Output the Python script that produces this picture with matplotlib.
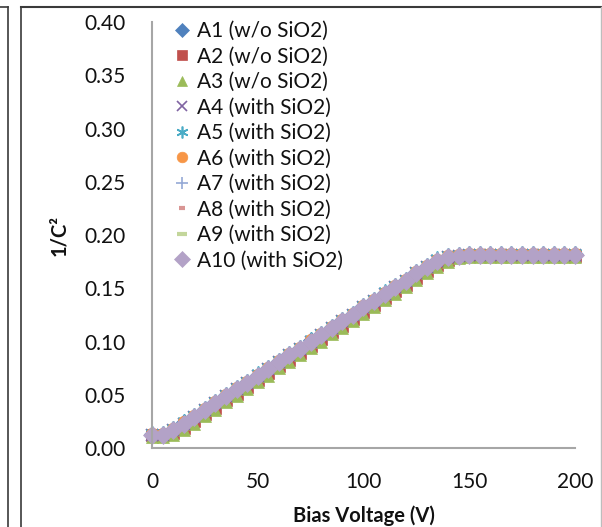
import matplotlib
matplotlib.use("Agg")
import matplotlib.pyplot as plt
from matplotlib.lines import Line2D

# Bias sweep, 0..200 V in 5 V steps
voltage = [0, 5, 10, 15, 20, 25, 30, 35, 40, 45,
           50, 55, 60, 65, 70, 75, 80, 85, 90, 95,
           100, 105, 110, 115, 120, 125, 130, 135, 140, 145,
           150, 155, 160, 165, 170, 175, 180, 185, 190, 195, 200]

# 1/C^2 per sample (without oxide)
a1 = [0.013, 0.013, 0.018, 0.024, 0.030, 0.037, 0.043, 0.050, 0.056, 0.062,
      0.069, 0.075, 0.082, 0.088, 0.094, 0.101, 0.107, 0.114, 0.120, 0.126,
      0.133, 0.139, 0.146, 0.152, 0.158, 0.165, 0.171, 0.177, 0.180, 0.181,
      0.182, 0.182, 0.182, 0.182, 0.182, 0.182, 0.182, 0.182, 0.182, 0.182, 0.182]
a2 = [0.012, 0.012, 0.014, 0.019, 0.025, 0.032, 0.038, 0.045, 0.051, 0.057,
      0.064, 0.070, 0.077, 0.083, 0.089, 0.096, 0.102, 0.109, 0.115, 0.121,
      0.128, 0.134, 0.141, 0.147, 0.153, 0.160, 0.166, 0.172, 0.177, 0.179,
      0.180, 0.180, 0.180, 0.180, 0.180, 0.180, 0.180, 0.180, 0.180, 0.180, 0.180]
a3 = [0.010, 0.010, 0.012, 0.017, 0.023, 0.030, 0.036, 0.043, 0.049, 0.055,
      0.062, 0.068, 0.075, 0.081, 0.087, 0.094, 0.100, 0.107, 0.113, 0.119,
      0.126, 0.132, 0.139, 0.145, 0.151, 0.158, 0.164, 0.170, 0.175, 0.178,
      0.179, 0.179, 0.179, 0.179, 0.179, 0.179, 0.179, 0.179, 0.179, 0.179, 0.179]

# 1/C^2 per sample (with SiO2)
a4 = [0.012, 0.012, 0.017, 0.023, 0.029, 0.036, 0.042, 0.049, 0.055, 0.061,
      0.068, 0.074, 0.081, 0.087, 0.093, 0.100, 0.106, 0.113, 0.119, 0.125,
      0.132, 0.138, 0.145, 0.151, 0.157, 0.164, 0.170, 0.176, 0.179, 0.180,
      0.181, 0.181, 0.181, 0.181, 0.181, 0.181, 0.181, 0.181, 0.181, 0.181, 0.181]
a5 = [0.014, 0.014, 0.019, 0.025, 0.031, 0.038, 0.044, 0.051, 0.057, 0.063,
      0.070, 0.076, 0.083, 0.089, 0.095, 0.102, 0.108, 0.115, 0.121, 0.127,
      0.134, 0.140, 0.147, 0.153, 0.159, 0.166, 0.172, 0.178, 0.181, 0.182,
      0.183, 0.183, 0.183, 0.183, 0.183, 0.183, 0.183, 0.183, 0.183, 0.183, 0.183]
a6 = [0.013, 0.013, 0.018, 0.024, 0.030, 0.037, 0.043, 0.050, 0.056, 0.062,
      0.069, 0.075, 0.082, 0.088, 0.094, 0.101, 0.107, 0.114, 0.120, 0.126,
      0.133, 0.139, 0.146, 0.152, 0.158, 0.165, 0.171, 0.177, 0.180, 0.181,
      0.182, 0.182, 0.182, 0.182, 0.182, 0.182, 0.182, 0.182, 0.182, 0.182, 0.182]
a7 = [0.012, 0.012, 0.017, 0.023, 0.029, 0.036, 0.042, 0.049, 0.055, 0.061,
      0.068, 0.074, 0.081, 0.087, 0.093, 0.100, 0.106, 0.113, 0.119, 0.125,
      0.132, 0.138, 0.145, 0.151, 0.157, 0.164, 0.170, 0.176, 0.179, 0.180,
      0.181, 0.181, 0.181, 0.181, 0.181, 0.181, 0.181, 0.181, 0.181, 0.181, 0.181]
a8 = [0.012, 0.012, 0.017, 0.023, 0.029, 0.036, 0.042, 0.049, 0.055, 0.061,
      0.068, 0.074, 0.081, 0.087, 0.093, 0.100, 0.106, 0.113, 0.119, 0.125,
      0.132, 0.138, 0.145, 0.151, 0.157, 0.164, 0.170, 0.176, 0.179, 0.180,
      0.181, 0.181, 0.181, 0.181, 0.181, 0.181, 0.181, 0.181, 0.181, 0.181, 0.181]
a9 = [0.012, 0.012, 0.017, 0.023, 0.029, 0.036, 0.042, 0.049, 0.055, 0.061,
      0.068, 0.074, 0.081, 0.087, 0.093, 0.100, 0.106, 0.113, 0.119, 0.125,
      0.132, 0.138, 0.145, 0.151, 0.157, 0.164, 0.170, 0.176, 0.179, 0.180,
      0.181, 0.181, 0.181, 0.181, 0.181, 0.181, 0.181, 0.181, 0.181, 0.181, 0.181]
a10 = [0.012, 0.012, 0.017, 0.023, 0.029, 0.036, 0.042, 0.049, 0.055, 0.061,
       0.068, 0.074, 0.081, 0.087, 0.093, 0.100, 0.106, 0.113, 0.119, 0.125,
       0.132, 0.138, 0.145, 0.151, 0.157, 0.164, 0.170, 0.176, 0.179, 0.180,
       0.181, 0.181, 0.181, 0.181, 0.181, 0.181, 0.181, 0.181, 0.181, 0.181, 0.181]

labels = ["A1 (w/o SiO2)", "A2 (w/o SiO2)", "A3 (w/o SiO2)",
          "A4 (with SiO2)", "A5 (with SiO2)", "A6 (with SiO2)",
          "A7 (with SiO2)", "A8 (with SiO2)", "A9 (with SiO2)",
          "A10 (with SiO2)"]
x_ticks = [0, 50, 100, 150, 200]
y_ticks = [0.00, 0.05, 0.10, 0.15, 0.20, 0.25, 0.30, 0.35, 0.40]

# Excel-ish marker styles, one per series
styles = [
    dict(marker="D", color="#4F81BD", ms=8),
    dict(marker="s", color="#C0504D", ms=8),
    dict(marker="^", color="#9BBB59", ms=9),
    dict(marker="x", color="#8064A2", ms=9, mew=1.2),
    dict(marker=(6, 2, 0), color="#4BACC6", ms=10, mew=1.2),
    dict(marker="o", color="#F79646", ms=9),
    dict(marker="+", color="#95A9D6", ms=10, mew=1.2),
    dict(marker="_", color="#D99694", ms=5, mew=3),
    dict(marker="_", color="#C3D69B", ms=9, mew=3),
    dict(marker="D", color="#B3A2C7", ms=9),
]

plt.rcParams["font.family"] = ["Lato", "DejaVu Sans"]

fig = plt.figure(figsize=(6.02, 5.27), dpi=100, facecolor="white")
ax = fig.add_axes([0.2525, 0.1499, 0.7025, 0.8081])

series = [a1, a2, a3, a4, a5, a6, a7, a8, a9, a10]
for ys, lab, st in zip(series, labels, styles):
    ax.plot(voltage, ys, linestyle="none", marker=st["marker"], color=st["color"],
            markersize=st["ms"], markeredgewidth=st.get("mew", 0.5),
            markeredgecolor=st["color"], label=lab, clip_on=False)

ax.set_xlim(0, 200)
ax.set_ylim(0, 0.40)
ax.set_xticks(x_ticks)
ax.set_yticks(y_ticks)
ax.set_yticklabels([f"{v:.2f}" for v in y_ticks])
ax.tick_params(length=0, labelsize=15, labelcolor="#111111")
ax.tick_params(axis="x", pad=17)
ax.tick_params(axis="y", pad=19)
for side in ("top", "right"):
    ax.spines[side].set_visible(False)
for side in ("left", "bottom"):
    ax.spines[side].set_color("#A6A6A6")
    ax.spines[side].set_linewidth(1.5)

ax.set_xlabel("Bias Voltage (V)", fontsize=14.5, fontweight="bold", labelpad=10,
              color="#111111")
ax.set_ylabel("1/C²", fontsize=14.5, fontweight="bold", labelpad=11, color="#111111")

ax.legend(loc="upper left", bbox_to_anchor=(0.038, 1.022), frameon=False,
          fontsize=15, handlelength=0.55, handletextpad=0.45, labelspacing=0.265,
          borderaxespad=0.0, markerscale=0.85, labelcolor="#111111")

# chart-area border and the edge of the neighbouring panel
W, H = 602, 527
def fx(px):
    return px / W
def fy(py):
    return 1 - py / H
dark = "#3a3a3a"
fig.add_artist(Line2D([fx(21), fx(602)], [fy(7), fy(7)], color=dark, lw=1.5))
fig.add_artist(Line2D([fx(21), fx(21)], [fy(7), 0], color=dark, lw=1.2))
fig.add_artist(Line2D([fx(600.5), fx(600.5)], [fy(7), 0], color="#BDBDBD", lw=1.0))
fig.add_artist(Line2D([0, fx(8)], [fy(7), fy(7)], color=dark, lw=1.2))
fig.add_artist(Line2D([fx(8), fx(8)], [fy(7), 0], color=dark, lw=1.2))

fig.savefig("out.png", dpi=100, facecolor="white")
